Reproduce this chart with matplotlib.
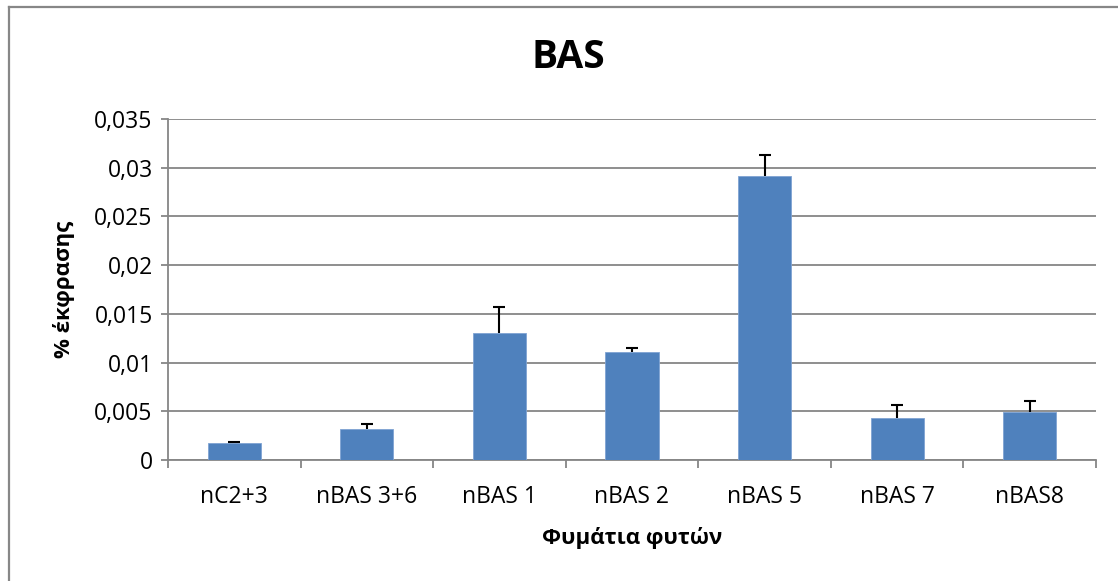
import numpy as np
import matplotlib
matplotlib.use('Agg')
import matplotlib.pyplot as plt
from matplotlib.lines import Line2D

plt.rcParams['font.family'] = ['Open Sans', 'DejaVu Sans']

# data
samples = ['nC2+3', 'nBAS 3+6', 'nBAS 1', 'nBAS 2', 'nBAS 5', 'nBAS 7', 'nBAS8']
expression = [0.00175, 0.00318, 0.0130, 0.01106, 0.0291, 0.00428, 0.00493]
err_up = [0.00007, 0.0005, 0.0027, 0.0004, 0.0022, 0.0014, 0.0011]
yticks = [0, 0.005, 0.01, 0.015, 0.02, 0.025, 0.03, 0.035]
ytick_labels = ['0', '0,005', '0,01', '0,015', '0,02', '0,025', '0,03', '0,035']

grey = '#868686'
bar_col = '#4F81BD'

fig = plt.figure(figsize=(11.18, 5.81), dpi=100)
ax = fig.add_axes([168/1118, 1 - 460/581, (1096 - 168)/1118, (460 - 119)/581])

x = np.arange(len(samples))
vals = np.array(expression)
errs = np.array(err_up)
ax.bar(x, vals, width=0.4, color=bar_col, edgecolor='#7FA3D3', linewidth=0.6, zorder=3)

# upper error bars only (stem + cap at top)
ax.vlines(x, vals, vals + errs, color='black', linewidth=1.5, zorder=4)
ax.plot(x, vals + errs, linestyle='none', marker='_', markersize=9, markeredgewidth=1.5,
        color='black', zorder=4)

ax.set_xlim(-0.5, len(samples) - 0.5)
ax.set_ylim(0, 0.035)
ax.set_yticks(yticks)
ax.set_yticklabels(ytick_labels, fontsize=16.5)
ax.yaxis.grid(True, color=grey, linewidth=1.3, zorder=0)

# category boundaries get the ticks, names sit in between
ax.set_xticks(np.arange(-0.5, len(samples), 1.0))
ax.set_xticklabels([])
ax.set_xticks(x, minor=True)
ax.set_xticklabels(samples, minor=True, fontsize=16.5)
ax.tick_params(axis='x', which='major', length=6, color=grey, width=1.3)
ax.tick_params(axis='x', which='minor', length=0, pad=18)
ax.tick_params(axis='y', length=5, color=grey, width=1.3, pad=6)

for s in ['top', 'right']:
    ax.spines[s].set_visible(False)
for s in ['left', 'bottom']:
    ax.spines[s].set_color(grey)
    ax.spines[s].set_linewidth(1.3)

ax.set_ylabel('% έκφρασης', fontsize=16, fontweight='bold', labelpad=14)
ax.set_xlabel('Φυμάτια φυτών', fontsize=16, fontweight='bold', labelpad=13)
fig.text(568/1118, 1 - 57/581, 'BAS', fontsize=28, fontweight='bold', ha='center', va='center')

# chart area border (only left and top visible in the crop)
fig.add_artist(Line2D([9/1118, 9/1118], [0, 1 - 7/581], color='#878787', linewidth=1.6))
fig.add_artist(Line2D([9/1118, 1], [1 - 7/581, 1 - 7/581], color='#878787', linewidth=1.6))

fig.savefig('out.png', dpi=100)
